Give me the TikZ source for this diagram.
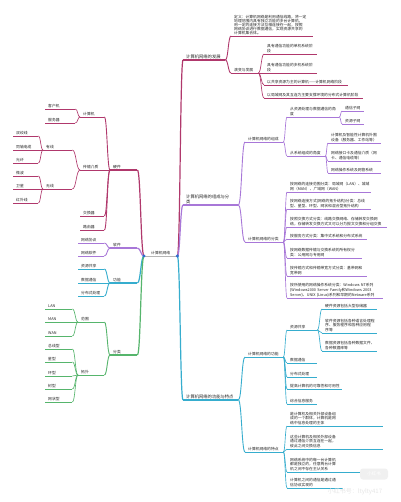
\documentclass[tikz,border=0pt]{standalone}
\usepackage{fontspec}
\setmainfont{Noto Sans CJK SC}
\usetikzlibrary{calc}
\definecolor{cmag}{HTML}{B0386C}
\definecolor{cpur}{HTML}{A877D8}
\definecolor{ccya}{HTML}{36ADCE}
\definecolor{cgrn}{HTML}{56B56C}
\definecolor{cdot}{HTML}{2F6FD0}
\definecolor{cgry}{HTML}{B4B4B4}
\definecolor{cwm}{HTML}{E6E6E6}
\definecolor{ctxt}{HTML}{262626}
\tikzset{
  tn/.style={anchor=south west, inner xsep=3pt, inner ysep=1pt, align=left,
    font=\fontsize{3.8}{4.6}\selectfont, text=ctxt},
  big/.style={font=\fontsize{4.3}{5.1}\selectfont},
  tight/.style={font=\fontsize{3.8}{4.0}\selectfont},
  conn/.style={to path={let \p1=(\tikztostart), \p2=(\tikztotarget) in
    .. controls ({(\x1+\x2)/2},\y1) and ({(\x1+\x2)/2},\y2) .. (\tikztotarget)}},
  lA/.style={line width=1.2pt},
  lB/.style={line width=0.9pt},
  lC/.style={line width=0.65pt},
}
\newcommand\TN[7]{%
  \pgfmathsetmacro\tnw{#4-6}%
  \node[tn,#6,text width=\tnw pt] (#1) at (#2,#3) {#7};
  \draw[#5] (#1.south west) -- (#1.south east);}
\newcommand\CR[3]{\draw[#1] (#2.south east) to[conn] (#3.south west);}
\newcommand\CL[3]{\draw[#1] (#2.south west) to[conn] (#3.south east);}
\begin{document}
\begin{tikzpicture}[x=1pt,y=-1pt]
\useasboundingbox[fill=white] (0,0) rectangle (400,502);

% root
\node[tn,align=center,text width=27pt] (root) at (144,256) {计算机网络};
\draw[cgry,line width=0.9pt] (root.south west) -- (root.south east);

% ---------- left side ----------
\TN{hw}{110}{170}{27}{cmag,lA}{}{硬件}
\TN{sw}{110}{248}{27}{cpur,lA}{}{软件}
\TN{fn}{110}{283}{27}{ccya,lA}{}{功能}
\TN{cl}{110}{355}{27}{cgrn,lA}{}{分类}
\CL{cmag,lA}{root}{hw}
\CL{cpur,lA}{root}{sw}
\CL{ccya,lA}{root}{fn}
\CL{cgrn,lA}{root}{cl}

\TN{pc}{80}{117}{24}{cmag,lB}{}{计算机}
\TN{med}{80}{170}{30}{cmag,lB}{}{传输介质}
\TN{swi}{80}{216}{24}{cmag,lB}{}{交换器}
\TN{rt}{80}{230}{24}{cmag,lB}{}{路由器}
\CL{cmag,lB}{hw}{pc}
\CL{cmag,lB}{hw}{med}
\CL{cmag,lB}{hw}{swi}
\CL{cmag,lB}{hw}{rt}

\TN{cli}{45}{109}{30}{cmag,lC}{}{客户机}
\TN{srv}{45}{123}{30}{cmag,lC}{}{服务器}
\CL{cmag,lC}{pc}{cli}
\CL{cmag,lC}{pc}{srv}

\TN{wired}{43}{150}{29}{cmag,lC}{}{有线}
\TN{wless}{43}{189}{29}{cmag,lC}{}{无线}
\CL{cmag,lC}{med}{wired}
\CL{cmag,lC}{med}{wless}

\TN{tp}{13}{136}{25}{cmag,lC}{}{双绞线}
\TN{coax}{13}{150}{25}{cmag,lC}{}{同轴电缆}
\TN{fib}{13}{163}{25}{cmag,lC}{}{光纤}
\CL{cmag,lC}{wired}{tp}
\CL{cmag,lC}{wired}{coax}
\CL{cmag,lC}{wired}{fib}
\TN{mw}{13}{176}{25}{cmag,lC}{}{微波}
\TN{sat}{13}{189}{25}{cmag,lC}{}{卫星}
\TN{ir}{13}{203}{25}{cmag,lC}{}{红外线}
\CL{cmag,lC}{wless}{mw}
\CL{cmag,lC}{wless}{sat}
\CL{cmag,lC}{wless}{ir}

\TN{prot}{78}{243}{26}{cpur,lB}{}{网络协议}
\TN{nsw}{78}{256}{26}{cpur,lB}{}{网络软件}
\CL{cpur,lB}{sw}{prot}
\CL{cpur,lB}{sw}{nsw}

\TN{fa}{78}{269}{26}{ccya,lB}{}{资源共享}
\TN{fb}{78}{283}{26}{ccya,lB}{}{数据通信}
\TN{fc}{78}{296}{26}{ccya,lB}{}{分布式处理}
\CL{ccya,lB}{fn}{fa}
\CL{ccya,lB}{fn}{fb}
\CL{ccya,lB}{fn}{fc}

\TN{rng}{78}{322}{26}{cgrn,lB}{}{范围}
\TN{topo}{78}{375}{26}{cgrn,lB}{}{拓扑}
\CL{cgrn,lB}{cl}{rng}
\CL{cgrn,lB}{cl}{topo}
\TN{lan}{45}{309}{27}{cgrn,lC}{}{LAN}
\TN{man}{45}{322}{27}{cgrn,lC}{}{MAN}
\TN{wan}{45}{336}{27}{cgrn,lC}{}{WAN}
\CL{cgrn,lC}{rng}{lan}
\CL{cgrn,lC}{rng}{man}
\CL{cgrn,lC}{rng}{wan}
\TN{bus}{45}{349}{27}{cgrn,lC}{}{总线型}
\TN{star}{45}{362}{27}{cgrn,lC}{}{星型}
\TN{ring}{45}{376}{27}{cgrn,lC}{}{环型}
\TN{tree}{45}{389}{27}{cgrn,lC}{}{树型}
\TN{mesh}{45}{402}{27}{cgrn,lC}{}{网状型}
\CL{cgrn,lC}{topo}{bus}
\CL{cgrn,lC}{topo}{star}
\CL{cgrn,lC}{topo}{ring}
\CL{cgrn,lC}{topo}{tree}
\CL{cgrn,lC}{topo}{mesh}

% ---------- right side ----------
\TN{dev}{183}{60}{42}{cmag,lA}{big}{计算机网络的发展}
\TN{cmp}{183}{205}{55}{cpur,lA}{big}{计算机网络的组成与分\\类}
\TN{fea}{183}{400}{55}{ccya,lA}{big}{计算机网络的功能与特点}
\CR{cmag,lA}{root}{dev}
\CR{cpur,lA}{root}{cmp}
\CR{ccya,lA}{root}{fea}

\TN{def}{231}{36}{82}{cmag,lB}{tight}{定义：计算机网络是利用通信线路，将一定\\地理范围内具有独立功能的多台计算机，\\用一定的连接方法互相连接在一起，按照\\网络协议进行数据通信，实现资源共享的\\计算机集合体。}
\TN{evo}{231}{73}{27}{cmag,lB}{}{演变与发展}
\CR{cmag,lB}{dev}{def}
\CR{cmag,lB}{dev}{evo}
\TN{e1}{264}{54}{53}{cmag,lC}{}{具有通信功能的单机系统阶\\段}
\TN{e2}{264}{73}{53}{cmag,lC}{}{具有通信功能的多机系统阶\\段}
\TN{e3}{264}{85}{84}{cmag,lC}{}{以共享资源为主的计算机——计算机网络阶段}
\TN{e4}{264}{98}{99}{cmag,lC}{}{以局域网及其互连为主要支撑环境的分布式计算机阶段}
\CR{cmag,lC}{evo}{e1}
\CR{cmag,lC}{evo}{e2}
\CR{cmag,lC}{evo}{e3}
\CR{cmag,lC}{evo}{e4}

\TN{zc}{245}{142}{38}{cpur,lB}{}{计算机网络的组成}
\TN{fl}{245}{242}{38}{cpur,lB}{}{计算机网络的分类}
\CR{cpur,lB}{cmp}{zc}
\CR{cpur,lB}{cmp}{fl}

\TN{z1}{287}{117}{52}{cpur,lC}{}{从资源处理与数据通信的角\\度}
\TN{z2}{287}{156}{38}{cpur,lC}{}{从系统组成的角度}
\CR{cpur,lC}{zc}{z1}
\CR{cpur,lC}{zc}{z2}
\TN{z11}{342}{111}{22}{cpur,lC}{}{通信子网}
\TN{z12}{342}{124}{22}{cpur,lC}{}{资源子网}
\CR{cpur,lC}{z1}{z11}
\CR{cpur,lC}{z1}{z12}
\TN{z21}{328}{143}{53}{cpur,lC}{}{计算机及智能性计算机外围\\设备（服务器、工作站等）}
\TN{z22}{328}{161}{53}{cpur,lC}{}{网络接口卡及通信介质（网\\卡、通信电缆等）}
\TN{z23}{328}{173}{53}{cpur,lC}{}{网络操作系统及网管系统}
\CR{cpur,lC}{z2}{z21}
\CR{cpur,lC}{z2}{z22}
\CR{cpur,lC}{z2}{z23}

\TN{f1}{287}{192}{84}{cpur,lC}{}{按网络的连接范围分类：局域网（LAN）、城域\\网（MAN）、广域网（WAN）}
\TN{f2}{287}{209}{84}{cpur,lC}{}{按网络连接方式(网络的拓扑结构)分类：总线\\型、星型、环型、网状和混合型拓扑结构}
\TN{f3}{287}{227}{100}{cpur,lC}{}{按照交换方式分类：线路交换网络、存储转发交换网\\络，存储转发交换方式又可以分为报文交换和分组交换}
\TN{f4}{287}{239}{80}{cpur,lC}{}{按服务方式分类：集中式系统和分布式系统}
\TN{f5}{287}{258}{75}{cpur,lC}{}{按网络数据传输与交换系统的所有权分\\类：公用网与专用网}
\TN{f6}{287}{276}{80}{cpur,lC}{}{按传输方式和传输带宽方式分类：基带网和\\宽带网}
\TN{f7}{287}{298}{96}{cpur,lC}{}{按所使用的网络操作系统分类：Windows NT系列\\(Windows2000 Server Family和Windows 2003\\Server)、UNIX (Linux)系列和早期的Netware系列}
\CR{cpur,lC}{fl}{f1}
\CR{cpur,lC}{fl}{f2}
\CR{cpur,lC}{fl}{f3}
\CR{cpur,lC}{fl}{f4}
\CR{cpur,lC}{fl}{f5}
\CR{cpur,lC}{fl}{f6}
\CR{cpur,lC}{fl}{f7}

\TN{gn}{245}{357}{38}{ccya,lB}{}{计算机网络的功能}
\TN{td}{245}{452}{38}{ccya,lB}{}{计算机网络的特点}
\CR{ccya,lB}{fea}{gn}
\CR{ccya,lB}{fea}{td}

\TN{g1}{287}{330}{30}{ccya,lC}{}{资源共享}
\TN{g2}{287}{363}{30}{ccya,lC}{}{数据通信}
\TN{g3}{287}{377}{30}{ccya,lC}{}{分布式处理}
\TN{g4}{287}{389}{55}{ccya,lC}{}{提高计算机的可靠性和可用性}
\TN{g5}{287}{404}{30}{ccya,lC}{}{综合信息服务}
\CR{ccya,lC}{gn}{g1}
\CR{ccya,lC}{gn}{g2}
\CR{ccya,lC}{gn}{g3}
\CR{ccya,lC}{gn}{g4}
\CR{ccya,lC}{gn}{g5}
\TN{g11}{322}{309}{55}{ccya,lC}{}{硬件资源包括大型存储器}
\TN{g12}{322}{333}{55}{ccya,lC}{}{软件资源包括各种语言处理程\\序、服务程序和各种应用程\\序等}
\TN{g13}{322}{351}{55}{ccya,lC}{}{数据资源包括各种数据文件、\\各种数据库等}
\CR{ccya,lC}{g1}{g11}
\CR{ccya,lC}{g1}{g12}
\CR{ccya,lC}{g1}{g13}

\TN{t1}{287}{426}{96}{ccya,lC}{}{是计算机及相关外部设备组\\成的一个群体，计算机是网\\络中信息处理的主体}
\TN{t2}{287}{449}{96}{ccya,lC}{}{这些计算机及相关外部设备\\通过通信介质互连在一起，\\彼此之间交换信息}
\TN{t3}{287}{472}{96}{ccya,lC}{}{网络系统中的每一台计算机\\都是独立的，任意两台计算\\机之间不存在主从关系}
\TN{t4}{287}{488}{56}{ccya,lC}{}{计算机之间的通信是通过通\\信协议实现的}
\CR{ccya,lC}{td}{t1}
\CR{ccya,lC}{td}{t2}
\CR{ccya,lC}{td}{t3}
\CR{ccya,lC}{td}{t4}

% dots on root
\fill[cdot] (root.south west) circle (1.7);
\fill[cdot] (root.south east) circle (1.7);

% watermark
\node[fill=cwm!60,rounded corners=3pt,text=white,font=\fontsize{4.5}{5}\selectfont,
  minimum width=28pt,minimum height=11pt,inner sep=0pt] (wlogo) at (374,474) {小红书};
\node[text=cwm,font=\fontsize{6}{7}\selectfont,inner sep=0pt] (wtext) at (355,492) {小红书号：ltylty417};
\end{tikzpicture}
\end{document}
